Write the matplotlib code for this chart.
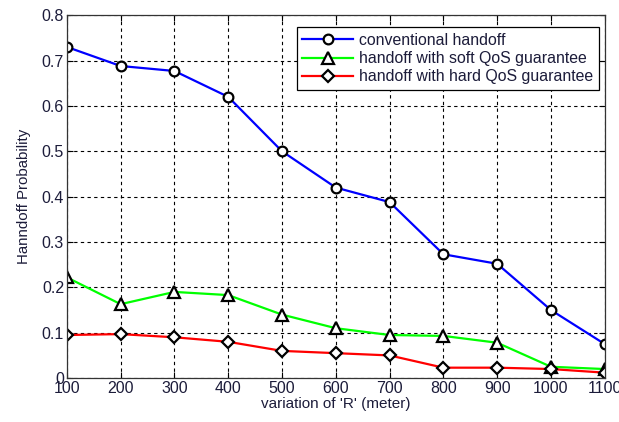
import matplotlib
matplotlib.use("Agg")
import matplotlib.pyplot as plt

x = [100, 200, 300, 400, 500, 600, 700, 800, 900, 1000, 1100]
conventional = [0.73, 0.688, 0.677, 0.62, 0.50, 0.42, 0.388, 0.273, 0.252, 0.15, 0.075]
soft_qos = [0.222, 0.163, 0.19, 0.183, 0.14, 0.11, 0.095, 0.093, 0.078, 0.025, 0.02]
hard_qos = [0.095, 0.097, 0.09, 0.08, 0.06, 0.055, 0.05, 0.023, 0.023, 0.02, 0.012]
labels = ["conventional handoff", "handoff with soft QoS guarantee", "handoff with hard QoS guarantee"]
yticks = [0, 0.1, 0.2, 0.3, 0.4, 0.5, 0.6, 0.7, 0.8]
ytick_labels = ["0", "0.1", "0.2", "0.3", "0.4", "0.5", "0.6", "0.7", "0.8"]

plt.rcParams['font.family'] = ['Liberation Sans', 'DejaVu Sans']
txt = "#1c1c3a"

fig = plt.figure(figsize=(6.19, 4.22), dpi=100)
ax = fig.add_axes([0.108, 0.104, 0.869, 0.860])

ms = 7
ax.plot(x, conventional, color="#0000ff", lw=1.6, marker="o", ms=ms, mfc="white", mec="black", mew=1.6, label=labels[0])
ax.plot(x, soft_qos, color="#00ff00", lw=1.6, marker="^", ms=ms + 1, mfc="white", mec="black", mew=1.6, label=labels[1])
ax.plot(x, hard_qos, color="#ff0000", lw=1.6, marker="D", ms=ms - 1, mfc="white", mec="black", mew=1.6, label=labels[2])

ax.set_xlim(100, 1100)
ax.set_ylim(0, 0.8)
ax.set_xticks(x)
ax.set_xticklabels([str(v) for v in x], fontsize=11.5, color=txt)
ax.set_yticks(yticks)
ax.set_yticklabels(ytick_labels, fontsize=11.5, color=txt)
ax.tick_params(direction="in", length=4, pad=2, top=True, right=True, width=0.8)
ax.grid(True, linestyle=(0, (3, 3)), color="black", lw=0.8)
for s in ax.spines.values():
    s.set_linewidth(0.9)
    s.set_color("#333333")

ax.set_xlabel("variation of 'R' (meter)", fontsize=11, color=txt, labelpad=1)
ax.set_ylabel("Hanndoff Probability", fontsize=10.8, color=txt, labelpad=8)

leg = ax.legend(loc="upper right", bbox_to_anchor=(0.995, 0.975), fontsize=11.4, frameon=True,
                fancybox=False, edgecolor="black", framealpha=1, borderpad=0.35, labelspacing=0.2,
                handlelength=3.2, handletextpad=0.4, borderaxespad=0.2)
leg.get_frame().set_linewidth(0.9)
for t in leg.get_texts():
    t.set_color(txt)

fig.savefig("out.png", dpi=100)
